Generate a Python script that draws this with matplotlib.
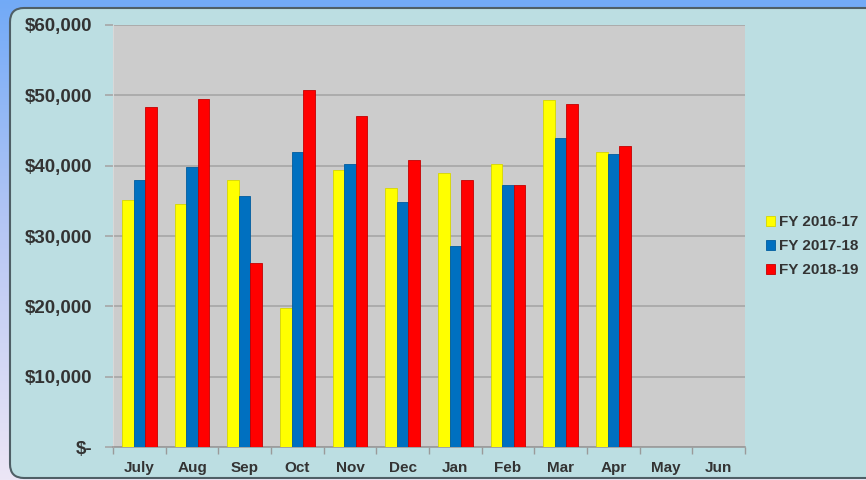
import matplotlib.pyplot as plt
import numpy as np
from matplotlib.patches import FancyBboxPatch, Patch
from matplotlib.colors import LinearSegmentedColormap
from matplotlib.ticker import FuncFormatter, FixedLocator

months = ["July", "Aug", "Sep", "Oct", "Nov", "Dec", "Jan", "Feb", "Mar", "Apr", "May", "Jun"]
# monthly totals, May/Jun not reported yet
fy_2016_17 = [35100, 34500, 37900, 19700, 39400, 36800, 39000, 40200, 49300, 41900, np.nan, np.nan]
fy_2017_18 = [38000, 39800, 35700, 42000, 40200, 34800, 28600, 37300, 43900, 41600, np.nan, np.nan]
fy_2018_19 = [48400, 49500, 26200, 50700, 47000, 40800, 37900, 37300, 48700, 42800, np.nan, np.nan]
series_labels = ["FY 2016-17", "FY 2017-18", "FY 2018-19"]
series_colors = ["#ffff00", "#0070c0", "#ff0000"]
edge_colors = ["#d6d600", "#005c9e", "#c40000"]

plt.rcParams['font.family'] = ['Liberation Sans', 'DejaVu Sans']
txt = "#333333"

fig = plt.figure(figsize=(8.66, 4.8), dpi=100)

# background: gradient + rounded panel, in pixel coords
bg = fig.add_axes([0, 0, 1, 1], zorder=0)
bg.set_xlim(0, 866)
bg.set_ylim(0, 480)
bg.axis("off")
cmap = LinearSegmentedColormap.from_list("bg", ["#ece6f6", "#b9c8f4", "#72aaf7"])
grad = np.linspace(0, 1, 256).reshape(-1, 1)
bg.imshow(grad, cmap=cmap, extent=[0, 866, 0, 480], origin="lower", aspect="auto")
panel = FancyBboxPatch((10, 2), 870, 470, boxstyle="round,pad=0,rounding_size=14",
                       facecolor="#bcdee2", edgecolor="#4f5f66", linewidth=1.5)
bg.add_patch(panel)

ax = fig.add_axes([113 / 866, 33 / 480, 632 / 866, 422 / 480], zorder=1)
ax.set_facecolor("#cccccc")

x = np.arange(len(months))
w = 0.22
for i, vals in enumerate([fy_2016_17, fy_2017_18, fy_2018_19]):
    ax.bar(x + (i - 1) * w, vals, width=w, color=series_colors[i],
           edgecolor=edge_colors[i], linewidth=0.6, zorder=3)

ax.set_xlim(-0.5, len(months) - 0.5)
ax.set_ylim(0, 60000)
ax.set_yticks(np.arange(0, 60001, 10000))
ax.yaxis.set_major_formatter(FuncFormatter(lambda v, p: "$-" if v == 0 else "${:,.0f}".format(v)))
ax.grid(axis="y", color="#a6a6a6", linewidth=1.2, zorder=1)
ax.set_axisbelow(True)

ax.set_xticks(x)
ax.set_xticklabels(months)
ax.xaxis.set_minor_locator(FixedLocator(np.arange(-0.5, len(months), 1)))
ax.tick_params(axis="x", which="major", length=0, pad=10, labelsize=11, labelcolor=txt)
ax.tick_params(axis="x", which="minor", length=5, color="#9a9a9a", width=1)
ax.tick_params(axis="y", length=6, color="#a6a6a6", width=1.2, pad=9, labelsize=13.5, labelcolor=txt)
for lab in ax.get_xticklabels() + ax.get_yticklabels():
    lab.set_fontweight("bold")

for s in ["top", "right"]:
    ax.spines[s].set_visible(False)
ax.spines["left"].set_color("#d8d8d8")
ax.spines["bottom"].set_color("#9a9a9a")
ax.spines["bottom"].set_linewidth(1.2)

handles = [Patch(facecolor=c, edgecolor=e, linewidth=0.6) for c, e in zip(series_colors, edge_colors)]
fig.legend(handles, series_labels, loc="center left", bbox_to_anchor=(766 / 866, 0.487),
           frameon=False, borderpad=0, borderaxespad=0, handlelength=0.6, handleheight=0.6,
           handletextpad=0.25, labelspacing=0.65, prop={"size": 11, "weight": "bold"},
           labelcolor=txt)

fig.savefig("out.png", dpi=100)
